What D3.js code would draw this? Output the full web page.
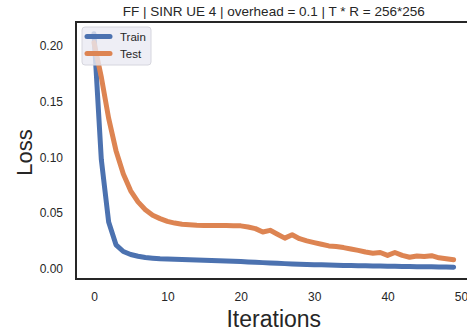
<!DOCTYPE html>
<html><head><meta charset="utf-8">
<script src="https://cdn.jsdelivr.net/npm/d3@7"></script>
<style>html,body{margin:0;padding:0;background:#fff;overflow:hidden}</style>
</head><body>
<svg id="chart" width="467" height="328"></svg>
<script>
const title = "FF | SINR UE 4 | overhead = 0.1 | T * R = 256*256";
const seriesNames = ["Train", "Test"];
const iterations = d3.range(0, 50);
const trainLoss = [0.211,0.098,0.042,0.0215,0.0155,0.0128,0.0112,0.0101,0.0095,0.0090,
  0.0087,0.0085,0.0082,0.0080,0.0078,0.0076,0.0074,0.0072,0.0070,0.0067,
  0.0064,0.0061,0.0058,0.0055,0.0052,0.0049,0.0046,0.0043,0.0041,0.0039,
  0.0037,0.0035,0.0033,0.0032,0.0030,0.0029,0.0028,0.0026,0.0025,0.0024,
  0.0023,0.0022,0.0021,0.0020,0.0019,0.0018,0.0017,0.0016,0.0015,0.0014];
const testLoss = [0.203,0.172,0.135,0.106,0.085,0.070,0.060,0.053,0.048,0.045,
  0.0425,0.041,0.040,0.0395,0.039,0.0388,0.0388,0.0389,0.0388,0.0386,
  0.0385,0.0375,0.036,0.033,0.0345,0.031,0.0275,0.0305,0.027,0.025,
  0.0235,0.022,0.0205,0.020,0.019,0.0177,0.0165,0.015,0.014,0.0146,
  0.012,0.0146,0.012,0.0103,0.0115,0.011,0.0117,0.0098,0.009,0.008];
const xTicks = [0,10,20,30,40,50];
const yTicks = [0,0.05,0.10,0.15,0.20];
const colors = ["#4c72b0", "#dd8452"];

const svg = d3.select("#chart");
const L = 76, R = 471.6, T = 22, B = 279;
const font = "'Liberation Sans', Arial, sans-serif";
const txt = "#262626";

const x = d3.scaleLinear().domain([-2.45, 51.45]).range([L, R]);
const y = d3.scaleLinear().domain([-0.0092, 0.2215]).range([B, T]);

// axes
const xAxis = d3.axisBottom(x).tickValues(xTicks).tickSize(0).tickPadding(13).tickFormat(d3.format("d"));
const gx = svg.append("g").attr("transform", `translate(0,${B})`).call(xAxis);
const yAxis = d3.axisLeft(y).tickValues(yTicks).tickSize(0).tickPadding(13).tickFormat(d3.format(".2f"));
const gy = svg.append("g").attr("transform", `translate(${L},0)`).call(yAxis);
[gx, gy].forEach(g => {
  g.select(".domain").remove();
  g.selectAll("text").attr("font-family", font).attr("font-size", 12).attr("fill", txt);
});

// lines
svg.append("clipPath").attr("id", "clip").append("rect")
  .attr("x", L).attr("y", T).attr("width", R - L).attr("height", B - T);
const line = d3.line().x((d, i) => x(iterations[i])).y(d => y(d));
[trainLoss, testLoss].forEach((s, k) => {
  svg.append("path").datum(s).attr("d", line).attr("fill", "none")
    .attr("stroke", colors[k]).attr("stroke-width", 5)
    .attr("stroke-linejoin", "round").attr("stroke-linecap", "round")
    .attr("clip-path", "url(#clip)");
});

// spines
svg.append("rect").attr("x", L).attr("y", T).attr("width", R - L).attr("height", B - T)
  .attr("fill", "none").attr("stroke", txt).attr("stroke-width", 2);

// title and labels
svg.append("text").attr("x", (L + R) / 2).attr("y", 16).attr("text-anchor", "middle")
  .attr("font-family", font).attr("font-size", 13.5).attr("fill", txt).text(title);
svg.append("text").attr("transform", `translate(32,${(T + B) / 2 + 2}) rotate(-90)`)
  .attr("text-anchor", "middle").attr("font-family", font).attr("font-size", 22)
  .attr("fill", txt).text("Loss");
svg.append("text").attr("x", (L + R) / 2).attr("y", 327).attr("text-anchor", "middle")
  .attr("font-family", font).attr("font-size", 23).attr("fill", txt).text("Iterations");

// legend
const lg = svg.append("g");
lg.append("rect").attr("x", 82).attr("y", 27).attr("width", 69).attr("height", 38)
  .attr("rx", 3).attr("fill", "#eaeaf2").attr("fill-opacity", 0.8)
  .attr("stroke", "#d6d6de").attr("stroke-width", 1);
seriesNames.forEach((n, k) => {
  const yy = 36.5 + k * 17;
  lg.append("line").attr("x1", 87).attr("x2", 110).attr("y1", yy).attr("y2", yy)
    .attr("stroke", colors[k]).attr("stroke-width", 5).attr("stroke-linecap", "round");
  lg.append("text").attr("x", 120).attr("y", yy + 4).attr("font-family", font)
    .attr("font-size", 11.5).attr("fill", txt).text(n);
});
</script>
</body></html>
